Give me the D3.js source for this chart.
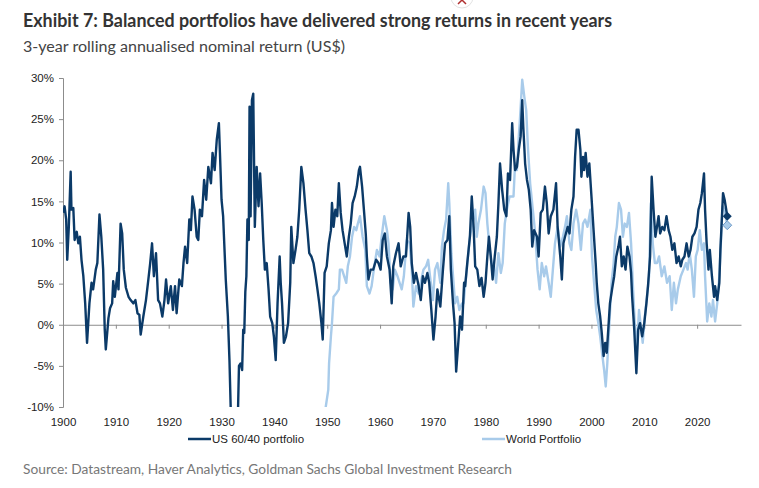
<!DOCTYPE html>
<html>
<head>
<meta charset="utf-8">
<script src="https://cdn.jsdelivr.net/npm/d3@7"></script>
<style>
  body { margin: 0; background: #fff; }
  svg { display: block; }
</style>
</head>
<body>
<div id="chart"></div>
<script>
// Chart data (year, 3-year rolling return in %)
const seriesNames = ["US 60/40 portfolio", "World Portfolio"];
const xTicks = [1900, 1910, 1920, 1930, 1940, 1950, 1960, 1970, 1980, 1990, 2000, 2010, 2020];
const yTicks = [-10, -5, 0, 5, 10, 15, 20, 25, 30];

const usYears = [
  1900.06, 1900.3, 1900.6, 1900.8, 1901.1, 1901.45, 1901.6, 1901.95, 1902.2, 1902.6, 1902.9, 1903.2, 1903.5, 1903.85,
  1904.2, 1904.55, 1905.0, 1905.4, 1905.7, 1906.2, 1906.5, 1906.9, 1907.25, 1907.6, 1907.9, 1908.1, 1908.6, 1908.9,
  1909.3, 1909.5, 1909.8, 1910.3, 1910.5, 1910.9, 1911.2, 1911.5, 1911.9, 1912.4, 1912.8, 1913.3, 1913.7, 1914.1,
  1914.45, 1914.7, 1915.2, 1915.7, 1916.15, 1916.5, 1916.85, 1917.2, 1917.6, 1918.0, 1918.35, 1918.8, 1919.2, 1919.5,
  1919.9, 1920.4, 1920.8, 1921.2, 1921.5, 1922.0, 1922.5, 1922.8, 1923.1, 1923.5, 1923.9, 1924.2, 1924.5, 1924.9,
  1925.3, 1925.6, 1925.9, 1926.3, 1926.7, 1927.1, 1927.5, 1928.0, 1928.3, 1928.7, 1929.1, 1929.5, 1929.7, 1930.0,
  1930.3, 1930.8, 1931.2, 1931.5, 1931.75, 1932.2, 1932.7, 1933.1, 1933.3, 1933.6, 1933.9, 1934.1, 1934.3, 1934.5,
  1934.7, 1934.9, 1935.15, 1935.3, 1935.5, 1935.75, 1936.0, 1936.3, 1936.65, 1937.0, 1937.3, 1937.6, 1937.9, 1938.2,
  1938.55, 1938.9, 1939.2, 1939.6, 1939.9, 1940.25, 1940.6, 1941.0, 1941.2, 1941.45, 1941.8, 1942.2, 1942.6, 1943.0,
  1943.2, 1943.6, 1944.0, 1944.35, 1944.7, 1945.1, 1945.5, 1945.9, 1946.25, 1946.6, 1947.0, 1947.4, 1947.8, 1948.15,
  1948.5, 1948.9, 1949.15, 1949.5, 1949.9, 1950.3, 1950.7, 1950.9, 1951.2, 1951.55, 1951.9, 1952.2, 1952.55, 1952.9,
  1953.3, 1953.7, 1954.1, 1954.45, 1954.8, 1955.2, 1955.6, 1956.0, 1956.2, 1956.6, 1957.0, 1957.3, 1957.5, 1957.8,
  1958.2, 1958.7, 1959.25, 1959.7, 1960.1, 1960.5, 1960.9, 1961.3, 1961.8, 1962.2, 1962.5, 1963.0, 1963.5, 1963.9,
  1964.4, 1964.9, 1965.4, 1965.7, 1966.0, 1966.4, 1966.8, 1967.3, 1967.7, 1968.1, 1968.5, 1968.95, 1969.3, 1969.7,
  1970.1, 1970.5, 1970.85, 1971.4, 1971.9, 1972.3, 1972.75, 1973.1, 1973.4, 1973.8, 1974.1, 1974.4, 1974.8, 1975.15,
  1975.5, 1975.9, 1976.1, 1976.5, 1977.0, 1977.35, 1977.7, 1978.0, 1978.4, 1978.8, 1979.2, 1979.6, 1979.95, 1980.3,
  1980.6, 1980.95, 1981.3, 1981.7, 1982.1, 1982.4, 1982.7, 1983.1, 1983.5, 1983.9, 1984.2, 1984.6, 1985.0, 1985.25,
  1985.55, 1985.9, 1986.25, 1986.6, 1986.9, 1987.1, 1987.45, 1987.8, 1988.15, 1988.5, 1988.8, 1989.15, 1989.7, 1990.0,
  1990.4, 1990.8, 1991.2, 1991.55, 1991.9, 1992.3, 1992.8, 1993.3, 1993.6, 1994.1, 1994.4, 1994.7, 1995.0, 1995.5,
  1995.85, 1996.2, 1996.6, 1996.9, 1997.2, 1997.55, 1997.9, 1998.1, 1998.4, 1998.6, 1998.9, 1999.25, 1999.6, 2000.0,
  2000.4, 2000.8, 2001.0, 2001.3, 2001.65, 2001.95, 2002.3, 2002.6, 2002.9, 2003.3, 2003.5, 2003.9, 2004.3, 2004.7,
  2005.1, 2005.4, 2005.75, 2006.1, 2006.45, 2006.8, 2007.2, 2007.5, 2007.7, 2008.1, 2008.5, 2008.85, 2009.2, 2009.6,
  2010.0, 2010.4, 2010.7, 2011.1, 2011.4, 2011.75, 2012.1, 2012.4, 2012.7, 2013.0, 2013.4, 2013.8, 2014.2, 2014.6,
  2014.95, 2015.3, 2015.7, 2016.1, 2016.5, 2016.9, 2017.2, 2017.6, 2018.0, 2018.4, 2018.75, 2019.1, 2019.5, 2019.9,
  2020.25, 2020.6, 2020.9, 2021.3, 2021.5, 2021.8, 2022.15, 2022.4, 2022.8, 2023.2, 2023.4, 2023.8, 2024.2, 2024.4,
  2024.7, 2024.9, 2025.2, 2025.4, 2025.7
];
const usValues = [
  13.6, 14.4, 12.8, 7.9, 11.9, 18.6, 14.0, 14.2, 10.3, 11.3, 9.9, 10.7, 7.9, 5.9,
  2.6, -2.2, 2.6, 5.1, 4.3, 6.7, 7.5, 13.4, 10.7, 6.7, -0.6, -3.0, 0.8, 2.0,
  2.6, 5.3, 3.4, 6.3, 4.3, 12.3, 11.1, 6.7, 4.5, 3.4, 3.0, 2.6, 3.0, 1.4,
  1.2, -1.2, 1.0, 3.0, 5.5, 7.5, 9.9, 5.9, 8.7, 3.0, 2.6, 1.0, 3.0, 5.5,
  2.6, 4.7, 1.8, 4.7, 1.4, 5.5, 4.7, 7.5, 9.5, 7.5, 12.8, 11.5, 15.6, 14.0,
  10.7, 10.3, 14.0, 13.2, 17.6, 15.2, 19.2, 17.2, 20.9, 18.8, 22.5, 24.5, 20.9, 15.2,
  13.2, 5.5, 1.0, -4.3, -10.5, -17.0, -18.0, -11.0, -5.0, -4.7, -5.5, -0.6, -1.0, 4.0,
  5.9, 12.8, 10.3, 26.5, 13.2, 27.3, 28.1, 11.9, 19.2, 14.4, 18.4, 14.8, 10.3, 6.7,
  7.5, 4.3, 1.0, 0.2, -1.4, -4.3, 2.6, 8.3, 5.1, 2.6, -2.2, -1.4, 0.2, 5.1,
  11.9, 7.5, 9.1, 10.7, 14.0, 19.2, 17.2, 14.0, 11.5, 8.7, 8.3, 7.5, 5.9, 4.3,
  2.6, 0.2, -1.8, 6.3, 7.1, 9.9, 11.5, 14.8, 11.9, 14.0, 13.2, 17.2, 13.6, 11.5,
  9.9, 8.3, 10.7, 12.3, 14.8, 15.6, 16.8, 18.8, 19.2, 16.8, 13.5, 11.0, 8.3, 5.5,
  6.7, 6.7, 7.9, 7.5, 6.7, 10.3, 11.1, 8.3, 6.7, 2.6, 7.1, 8.7, 9.9, 7.1,
  8.3, 8.3, 13.6, 11.9, 7.5, 5.1, 6.3, 4.7, 3.0, 5.9, 5.1, 6.3, 5.1, 1.8,
  -1.8, 1.0, 4.3, 2.2, 6.7, 9.9, 10.3, 13.2, 6.7, 2.6, 0.2, -5.7, -2.2, 1.0,
  -0.6, 5.1, 4.7, 7.5, 10.7, 15.6, 11.9, 7.1, 6.7, 4.7, 5.7, 3.4, 5.1, 8.3,
  10.7, 8.3, 5.5, 8.3, 10.7, 14.8, 19.6, 16.4, 14.0, 13.2, 18.4, 17.6, 24.5, 21.3,
  18.8, 19.2, 21.3, 22.9, 27.3, 24.1, 19.6, 17.6, 16.4, 14.0, 9.5, 11.5, 10.7, 8.3,
  13.6, 14.0, 16.8, 14.8, 11.1, 13.2, 14.0, 17.2, 11.9, 8.3, 5.5, 9.9, 10.7, 11.9,
  11.1, 14.0, 15.6, 20.4, 23.7, 23.7, 21.3, 18.0, 20.4, 18.8, 20.9, 18.0, 19.6, 15.6,
  11.5, 7.5, 5.1, 2.6, 1.0, -1.0, -3.8, -2.2, -3.4, 0.6, 2.6, 4.3, 5.9, 8.3,
  9.5, 10.7, 7.1, 8.3, 6.7, 9.5, 8.3, 6.3, 3.4, -0.6, -5.9, -0.6, 0.2, -1.4,
  0.2, 2.6, 4.7, 8.3, 18.0, 14.0, 10.7, 11.9, 13.2, 11.1, 11.9, 11.5, 13.2, 11.5,
  10.7, 9.1, 9.9, 7.5, 8.3, 7.1, 7.9, 8.3, 9.9, 8.3, 9.1, 10.7, 11.1, 11.9,
  14.0, 14.8, 16.0, 18.4, 14.0, 9.9, 6.7, 9.1, 5.9, 3.4, 4.7, 3.0, 5.1, 9.1,
  13.2, 16.0, 15.2, 14.4, 13.2
];

const worldYears = [
  1949.6, 1950.2, 1950.35, 1950.7, 1950.9, 1951.2, 1951.7, 1952.2, 1952.4, 1952.8, 1953.2, 1953.6, 1953.9, 1954.3,
  1954.7, 1955.1, 1955.5, 1955.8, 1956.2, 1956.7, 1957.2, 1957.5, 1958.0, 1958.4, 1958.9, 1959.4, 1959.9, 1960.3,
  1960.8, 1961.3, 1961.6, 1962.0, 1962.4, 1962.8, 1963.3, 1963.7, 1964.1, 1964.5, 1965.05, 1965.6, 1966.0, 1966.3,
  1966.8, 1967.3, 1967.7, 1968.2, 1968.7, 1969.1, 1969.6, 1970.0, 1970.4, 1970.85, 1971.4, 1971.7, 1972.1, 1972.5,
  1972.9, 1973.1, 1973.5, 1973.9, 1974.2, 1974.6, 1975.0, 1975.5, 1975.8, 1976.4, 1977.0, 1977.35, 1978.0, 1978.3,
  1978.6, 1979.1, 1979.6, 1979.95, 1980.3, 1980.7, 1981.1, 1981.6, 1981.95, 1982.4, 1982.85, 1983.2, 1983.6, 1984.0,
  1984.5, 1984.9, 1985.25, 1985.55, 1985.9, 1986.25, 1986.5, 1986.9, 1987.3, 1987.65, 1988.0, 1988.4, 1988.9, 1989.3,
  1989.8, 1990.2, 1990.6, 1991.05, 1991.4, 1991.9, 1992.3, 1992.7, 1993.1, 1993.6, 1994.1, 1994.6, 1995.0, 1995.35,
  1995.85, 1996.2, 1996.6, 1997.1, 1997.55, 1998.0, 1998.4, 1998.8, 1999.25, 1999.8, 2000.1, 2000.5, 2000.9, 2001.3,
  2001.65, 2002.0, 2002.4, 2002.7, 2003.0, 2003.4, 2003.8, 2004.2, 2004.5, 2004.8, 2005.2, 2005.6, 2005.95, 2006.3,
  2006.7, 2007.1, 2007.5, 2007.85, 2008.2, 2008.6, 2009.0, 2009.35, 2009.7, 2010.1, 2010.5, 2010.9, 2011.25, 2011.6,
  2012.0, 2012.4, 2012.8, 2013.3, 2013.8, 2014.3, 2014.8, 2015.2, 2015.6, 2016.0, 2016.35, 2016.9, 2017.4, 2017.9,
  2018.2, 2018.6, 2019.0, 2019.4, 2019.75, 2020.1, 2020.5, 2020.9, 2021.3, 2021.5, 2021.9, 2022.3, 2022.7, 2023.0,
  2023.4, 2023.8, 2024.2, 2024.55, 2024.8, 2025.2, 2025.5, 2025.7
];
const worldValues = [
  -10.5, -7.9, -4.7, -1.4, 0.2, 3.4, 3.8, 4.3, 6.7, 6.7, 5.9, 5.1, 7.1, 8.3,
  10.7, 11.9, 11.5, 12.3, 13.2, 10.7, 9.1, 4.7, 3.8, 4.7, 7.1, 9.1, 8.3, 10.7,
  13.2, 11.5, 9.9, 5.1, 4.3, 6.7, 5.9, 5.1, 4.3, 5.9, 10.3, 9.9, 6.7, 2.2,
  4.7, 3.8, 5.1, 6.7, 7.1, 7.9, 5.1, 3.0, 6.7, 7.5, 5.1, 9.5, 11.5, 12.8,
  17.2, 14.8, 8.7, 5.1, 2.6, 3.4, 1.8, 2.6, 2.6, 6.7, 10.7, 11.9, 14.0, 10.7,
  12.3, 14.0, 16.8, 16.0, 12.3, 9.5, 7.5, 7.1, 5.1, 8.7, 6.3, 7.5, 12.3, 14.0,
  15.6, 15.6, 15.6, 19.6, 18.8, 22.9, 25.3, 29.8, 27.7, 26.1, 21.3, 17.2, 14.0, 11.5,
  6.7, 4.3, 7.5, 5.9, 7.1, 5.1, 3.4, 6.7, 9.9, 11.9, 9.5, 10.7, 11.9, 13.2,
  9.9, 9.1, 12.3, 14.0, 12.3, 9.1, 12.3, 12.8, 11.9, 14.0, 8.3, 5.1, 1.8, 0.2,
  -1.4, -3.4, -5.5, -7.5, -4.7, 0.2, 5.1, 7.5, 10.7, 11.9, 14.8, 14.0, 10.7, 12.3,
  11.9, 13.6, 9.9, 4.7, 0.2, -3.0, 1.8, -0.2, -2.2, 1.0, 3.4, 5.9, 14.8, 9.9,
  7.5, 7.5, 8.3, 5.9, 7.1, 5.1, 5.9, 1.8, 5.1, 2.6, 4.3, 5.9, 6.7, 7.5,
  6.7, 8.7, 6.7, 3.4, 8.3, 9.1, 11.5, 9.1, 9.9, 5.9, 0.4, 2.6, 1.0, 3.0,
  0.4, 2.6, 5.9, 10.7, 14.4, 14.0, 12.8, 12.1
];

const colors = ["#0b3a68", "#a8cbea"];

const W = 759, H = 488;
const svg = d3.select("#chart").append("svg")
  .attr("width", W)
  .attr("height", H)
  .style("font-family", "'Liberation Sans', Arial, sans-serif");

// scales
const x = d3.scaleLinear().domain([1900, 2028.3]).range([63, 741]);
const y = d3.scaleLinear().domain([-10, 30]).range([407, 78]);

// headings
svg.append("text")
  .attr("x", 23).attr("y", 27)
  .attr("textLength", 589).attr("lengthAdjust", "spacingAndGlyphs")
  .style("font-family", "Lato, 'Open Sans', sans-serif")
  .style("font-weight", "bold")
  .style("font-size", "18.5px")
  .style("fill", "#333")
  .text("Exhibit 7: Balanced portfolios have delivered strong returns in recent years");

svg.append("text")
  .attr("x", 23).attr("y", 52)
  .attr("textLength", 322).attr("lengthAdjust", "spacingAndGlyphs")
  .style("font-family", "Lato, 'Open Sans', sans-serif")
  .style("font-size", "15.5px")
  .style("fill", "#444")
  .text("3-year rolling annualised nominal return (US$)");

// little badge at the top edge
svg.append("circle")
  .attr("cx", 462).attr("cy", -3).attr("r", 11)
  .attr("fill", "#fff").attr("stroke", "#e2e2e2");
svg.append("path")
  .attr("d", "M458,4 L462,0 L466,4")
  .attr("fill", "none").attr("stroke", "#b03030").attr("stroke-width", 1.5);

// y axis
const yAxis = svg.append("g")
  .attr("transform", `translate(${x(1900)},0)`)
  .call(d3.axisLeft(y).tickValues(yTicks).tickSize(4).tickPadding(5).tickFormat(d => d + "%"));
yAxis.select(".domain").attr("stroke", "#8c8c8c");
yAxis.selectAll(".tick line").attr("stroke", "#8c8c8c");
yAxis.selectAll(".tick text").style("font-size", "11.5px").style("fill", "#222")
  .style("font-family", "'Liberation Sans', Arial, sans-serif");

// zero line with decade ticks
const zeroAxis = svg.append("g")
  .attr("transform", `translate(0,${y(0)})`)
  .call(d3.axisBottom(x).tickValues(xTicks).tickSize(4).tickSizeOuter(0).tickFormat(""));
zeroAxis.select(".domain").attr("stroke", "#8c8c8c");
zeroAxis.selectAll(".tick line").attr("stroke", "#8c8c8c");

// year labels at the bottom
const xLabels = svg.append("g")
  .attr("transform", `translate(0,${y(-10)})`)
  .call(d3.axisBottom(x).tickValues(xTicks).tickSize(0).tickPadding(11).tickFormat(d3.format("d")));
xLabels.select(".domain").remove();
xLabels.selectAll(".tick text").style("font-size", "11.5px").style("fill", "#222")
  .style("font-family", "'Liberation Sans', Arial, sans-serif");

// clip to the plot area
svg.append("clipPath").attr("id", "plot-clip")
  .append("rect")
  .attr("x", x(1900)).attr("y", y(30) - 3)
  .attr("width", x(2028.3) - x(1900)).attr("height", y(-10) - y(30) + 3);

const line = d3.line()
  .x(d => x(d[0]))
  .y(d => y(d[1]));

const usData = usYears.map((yr, i) => [yr, usValues[i]]);
const worldData = worldYears.map((yr, i) => [yr, worldValues[i]]);

const plot = svg.append("g").attr("clip-path", "url(#plot-clip)");

// World drawn first, US on top
plot.append("path")
  .datum(worldData)
  .attr("d", line)
  .attr("fill", "none")
  .attr("stroke", colors[1])
  .attr("stroke-width", 2.4)
  .attr("stroke-linejoin", "round");

plot.append("path")
  .datum(usData)
  .attr("d", line)
  .attr("fill", "none")
  .attr("stroke", colors[0])
  .attr("stroke-width", 2.4)
  .attr("stroke-linejoin", "round");

// end-point diamonds
const diamond = d3.symbol().type(d3.symbolSquare).size(40);
const usLast = usData[usData.length - 1];
const worldLast = worldData[worldData.length - 1];
svg.append("path")
  .attr("d", diamond)
  .attr("transform", `translate(${x(usLast[0])},${y(usLast[1])}) rotate(45)`)
  .attr("fill", colors[0]);
svg.append("path")
  .attr("d", diamond)
  .attr("transform", `translate(${x(worldLast[0])},${y(worldLast[1])}) rotate(45)`)
  .attr("fill", colors[1])
  .attr("stroke", "#5f8fbf")
  .attr("stroke-width", 0.8);

// legend
const legendX = [188, 482];
const legend = svg.append("g");
seriesNames.forEach((name, i) => {
  legend.append("line")
    .attr("x1", legendX[i]).attr("x2", legendX[i] + 23)
    .attr("y1", 439).attr("y2", 439)
    .attr("stroke", colors[i])
    .attr("stroke-width", 2.5);
  legend.append("text")
    .attr("x", legendX[i] + 24).attr("y", 443)
    .style("font-size", "11.5px")
    .style("fill", "#222")
    .text(name);
});

// source note
svg.append("text")
  .attr("x", 23).attr("y", 474)
  .attr("textLength", 489).attr("lengthAdjust", "spacingAndGlyphs")
  .style("font-family", "Lato, 'Open Sans', sans-serif")
  .style("font-size", "13.5px")
  .style("fill", "#777")
  .text("Source: Datastream, Haver Analytics, Goldman Sachs Global Investment Research");
</script>
</body>
</html>
